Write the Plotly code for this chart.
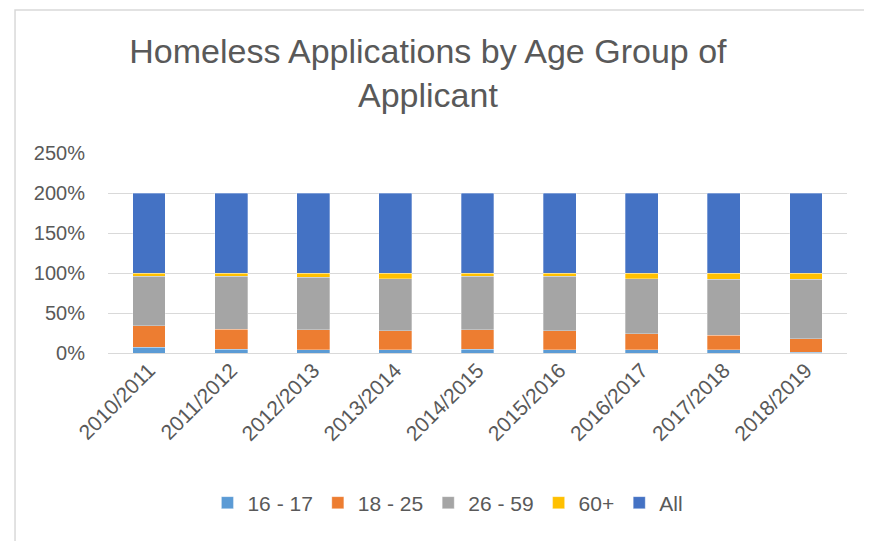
import plotly.graph_objects as go

# Data (share of all applications, per year)
years = ['2010/2011', '2011/2012', '2012/2013', '2013/2014', '2014/2015',
         '2015/2016', '2016/2017', '2017/2018', '2018/2019']
age_16_17 = [0.07, 0.05, 0.04, 0.04, 0.05, 0.04, 0.04, 0.04, 0.01]
age_18_25 = [0.27, 0.25, 0.25, 0.24, 0.24, 0.24, 0.20, 0.18, 0.17]
age_26_59 = [0.62, 0.66, 0.66, 0.65, 0.67, 0.68, 0.69, 0.70, 0.74]
age_60_plus = [0.04, 0.04, 0.05, 0.07, 0.04, 0.04, 0.07, 0.08, 0.08]
all_ages = [1.00, 1.00, 1.00, 1.00, 1.00, 1.00, 1.00, 1.00, 1.00]

series = [('16 - 17', age_16_17, '#5B9BD5'),
          ('18 - 25', age_18_25, '#ED7D31'),
          ('26 - 59', age_26_59, '#A5A5A5'),
          ('60+', age_60_plus, '#FFC000'),
          ('All', all_ages, '#4472C4')]

fig = go.Figure()
for name, vals, color in series:
    fig.add_trace(go.Bar(x=years, y=vals, name=name, marker_color=color,
                         marker_line=dict(color='rgba(255,255,255,0.5)', width=0.6)))

font_family = 'Liberation Sans, Arial, sans-serif'

# page body adds 8px margin, so figure is 8px smaller each way
# Plot area (figure px): x 100..839, y 145..345
fig.update_layout(
    width=864, height=533,
    margin=dict(l=100, r=25, t=145, b=188),
    barmode='stack', bargap=0.6,
    plot_bgcolor='white', paper_bgcolor='white',
    font=dict(family=font_family, color='#595959', size=20),
    title=dict(text='Homeless Applications by Age Group of<br>Applicant',
               x=0.486, xanchor='center', y=0.897, yanchor='middle',
               font=dict(size=34, color='#595959', family=font_family)),
    legend=dict(orientation='h', x=0.46, xanchor='center', y=-0.75,
                yanchor='middle', font=dict(size=21), traceorder='normal',
                itemwidth=30),
    showlegend=True,
)

fig.update_yaxes(range=[0, 2.5], dtick=0.5, tickformat='.0%',
                 showgrid=True, gridcolor='#D9D9D9', gridwidth=1,
                 zeroline=True, zerolinecolor='#D9D9D9', zerolinewidth=1,
                 showline=False, ticks='', ticklabelstandoff=22,
                 tickfont=dict(size=20))
fig.update_xaxes(tickangle=-45, showgrid=False, showline=False, ticks='',
                 tickfont=dict(size=21))

# chart frame
fig.add_shape(type='rect', xref='paper', yref='paper',
              x0=-0.1258, x1=1.0244, y0=-1.0, y1=1.715,
              line=dict(color='#D9D9D9', width=1.5), layer='below')

fig.write_html('out.html')
